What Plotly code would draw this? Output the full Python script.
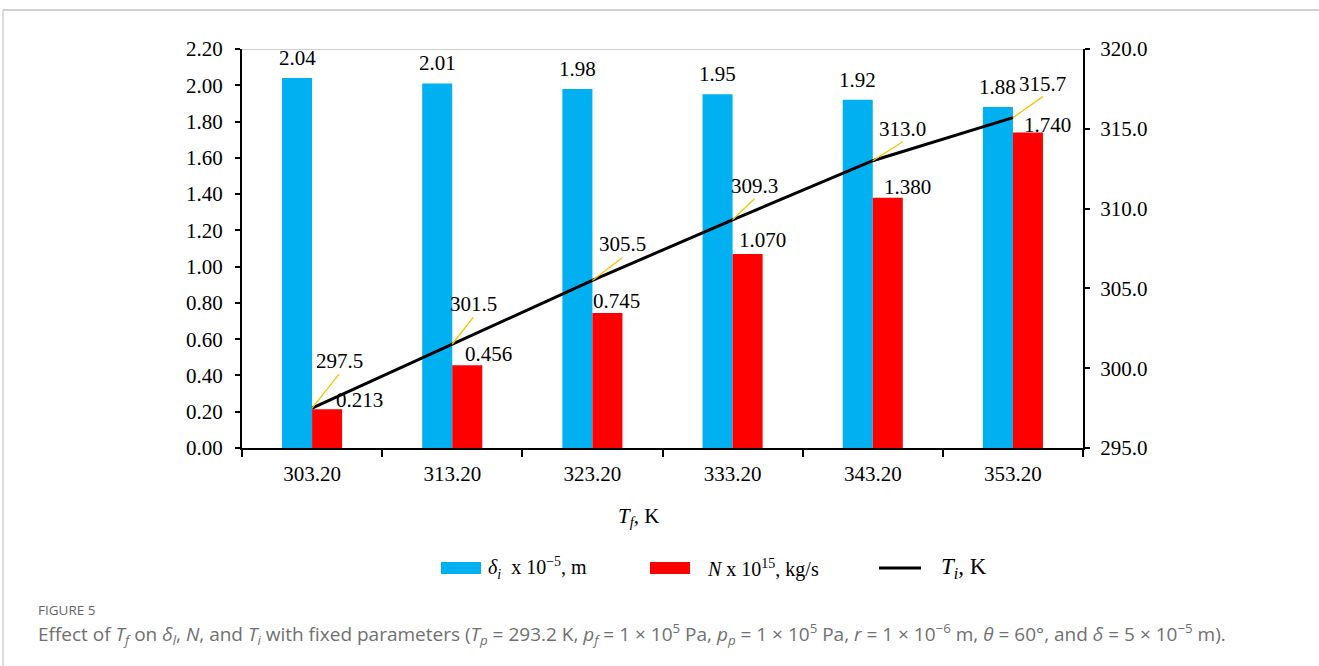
import plotly.graph_objects as go

# Feed temperature categories (K)
tf_labels = ["303.20", "313.20", "323.20", "333.20", "343.20", "353.20"]
# Interface thickness delta_i (x 1e-5 m)
delta_i = [2.04, 2.01, 1.98, 1.95, 1.92, 1.88]
# Permeation rate N (x 1e15 kg/s)
n_rate = [0.213, 0.456, 0.745, 1.070, 1.380, 1.740]
# Interface temperature T_i (K)
t_i = [297.5, 301.5, 305.5, 309.3, 313.0, 315.7]

W, H = 1319, 666
L, R, T, B = 242, 1083, 49, 448          # plot area in pixels
SERIF = "Liberation Serif"
FS = 21
BLUE, RED, GOLD = "#00B0F0", "#FF0000", "#FFC000"


def px(x):
    return (x - L) / (R - L)


def py(y):
    return (B - y) / (B - T)


fig = go.Figure()
fig.add_trace(go.Bar(x=tf_labels, y=delta_i, marker_color=BLUE, marker_line_width=0,
                     name="delta_i", hoverinfo="skip"))
fig.add_trace(go.Bar(x=tf_labels, y=n_rate, marker_color=RED, marker_line_width=0,
                     name="N", hoverinfo="skip"))
fig.add_trace(go.Scatter(x=tf_labels, y=t_i, yaxis="y2", mode="lines",
                         line=dict(color="black", width=3), name="T_i", hoverinfo="skip"))

annotations = []
lab_font = dict(family=SERIF, size=FS, color="black")

# value labels above the blue bars (category axis -> serial index positions)
for i, v in enumerate(delta_i):
    annotations.append(dict(x=i, y=v, xref="x", yref="y", text=f"{v:.2f}", showarrow=False,
                            xshift=-15, yshift=20, yanchor="middle", font=lab_font))

# value labels next to the red bars (hand-placed offsets)
n_dx = [32, 21, 9, 15, 20, 20]
n_dy = [9, 11, 11.5, 13.5, 11, 7]
for i, (v, dx, dy) in enumerate(zip(n_rate, n_dx, n_dy)):
    annotations.append(dict(x=i, y=v, xref="x", yref="y", text=f"{v:.3f}", showarrow=False,
                            xshift=15 + dx, yshift=dy, yanchor="middle", font=lab_font))

# T_i labels with leader lines
t_ax = [27, 21, 30, 22, 30, 30]
t_ay = [-34, -27, -23, -21, -19, -21]
for i, (v, ax, ay) in enumerate(zip(t_i, t_ax, t_ay)):
    annotations.append(dict(x=i, y=v, xref="x", yref="y2", text=f"{v:.1f}", showarrow=True,
                            ax=ax, ay=ay, arrowhead=0, arrowwidth=1.3, arrowcolor=GOLD,
                            xanchor="center", yanchor="bottom", borderpad=0, font=lab_font))

# x axis title
annotations.append(dict(x=px(638), y=py(517), xref="paper", yref="paper", yanchor="middle",
                        text="<i>T<sub>f</sub></i>, K", showarrow=False, font=lab_font))

# legend texts
leg_y = py(568)
annotations += [
    dict(x=px(486), y=leg_y, xref="paper", yref="paper", xanchor="left", yanchor="middle",
         showarrow=False, text="<i>δ<sub>i</sub></i>  x 10<sup>−5</sup>, m",
         font=dict(family=SERIF, size=20, color="black")),
    dict(x=px(705), y=leg_y, xref="paper", yref="paper", xanchor="left", yanchor="middle",
         showarrow=False, text="<i>N</i> x 10<sup>15</sup>, kg/s",
         font=dict(family=SERIF, size=20, color="black")),
    dict(x=px(939), y=leg_y, xref="paper", yref="paper", xanchor="left", yanchor="middle",
         showarrow=False, text="<i>T<sub>i</sub></i>, K",
         font=dict(family=SERIF, size=23, color="black")),
]

# caption
annotations += [
    dict(x=px(37), y=py(610), xref="paper", yref="paper", xanchor="left", yanchor="middle",
         showarrow=False, text="FIGURE 5", borderpad=0,
         font=dict(family="Open Sans", size=13.5, color="#666666")),
    dict(x=px(37), y=py(634), xref="paper", yref="paper", xanchor="left", yanchor="middle",
         showarrow=False, borderpad=0,
         text=("Effect of <i>T<sub>f</sub></i> on <i>δ<sub>l</sub></i>, <i>N</i>, and "
               "<i>T<sub>i</sub></i> with fixed parameters (<i>T<sub>p</sub></i> = 293.2 K, "
               "<i>p<sub>f</sub></i> = 1 × 10<sup>5</sup> Pa, <i>p<sub>p</sub></i> = 1 × 10<sup>5</sup> Pa, "
               "<i>r</i> = 1 × 10<sup>−6</sup> m, <i>θ</i> = 60°, and <i>δ</i> = 5 × 10<sup>−5</sup> m)."),
         font=dict(family="Open Sans", size=19, color="#707070")),
]

shapes = [
    # top boundary line of the value axis
    dict(type="line", xref="paper", yref="y", x0=0, x1=1, y0=2.2, y1=2.2,
         line=dict(color="#BFBFBF", width=1.5)),
    # legend swatches
    dict(type="rect", xref="paper", yref="paper", x0=px(441), x1=px(481), y0=py(574), y1=py(562),
         fillcolor=BLUE, line_width=0),
    dict(type="rect", xref="paper", yref="paper", x0=px(650), x1=px(690), y0=py(574), y1=py(562),
         fillcolor=RED, line_width=0),
    dict(type="line", xref="paper", yref="paper", x0=px(879), x1=px(921), y0=py(568), y1=py(568),
         line=dict(color="black", width=3)),
    # page frame
    dict(type="line", xref="paper", yref="paper", x0=px(3), x1=px(1319), y0=py(10), y1=py(10),
         line=dict(color="#D0D0D0", width=2)),
    dict(type="line", xref="paper", yref="paper", x0=px(3), x1=px(3), y0=py(10), y1=py(666),
         line=dict(color="#D0D0D0", width=1.5)),
]

tickfont = dict(family=SERIF, size=FS, color="black")
fig.update_layout(
    width=W, height=H,
    margin=dict(l=L, r=W - R, t=T, b=H - B),
    paper_bgcolor="white", plot_bgcolor="white",
    barmode="group", bargap=80 / 140, bargroupgap=0,
    showlegend=False,
    xaxis=dict(type="category", range=[-0.5, 5.5], tickson="boundaries", ticks="outside",
               ticklen=7, tickwidth=1.5, tickcolor="black", showline=True, linecolor="black",
               linewidth=2, showgrid=False, tickfont=tickfont, zeroline=False,
               ticklabelstandoff=6),
    yaxis=dict(range=[0, 2.2], dtick=0.2, tickformat=".2f", ticks="outside", ticklen=5,
               tickwidth=1.5, tickcolor="black", showline=True, linecolor="black", linewidth=2,
               showgrid=False, zeroline=False, tickfont=tickfont, ticklabelstandoff=8),
    yaxis2=dict(range=[295, 320], dtick=5, tickformat=".1f", overlaying="y", side="right",
                ticks="outside", ticklen=5, tickwidth=1.5, tickcolor="black", showline=True,
                linecolor="black", linewidth=2, showgrid=False, zeroline=False, tickfont=tickfont,
                ticklabelstandoff=6),
    annotations=annotations,
    shapes=shapes,
)

fig.write_html("out.html")
